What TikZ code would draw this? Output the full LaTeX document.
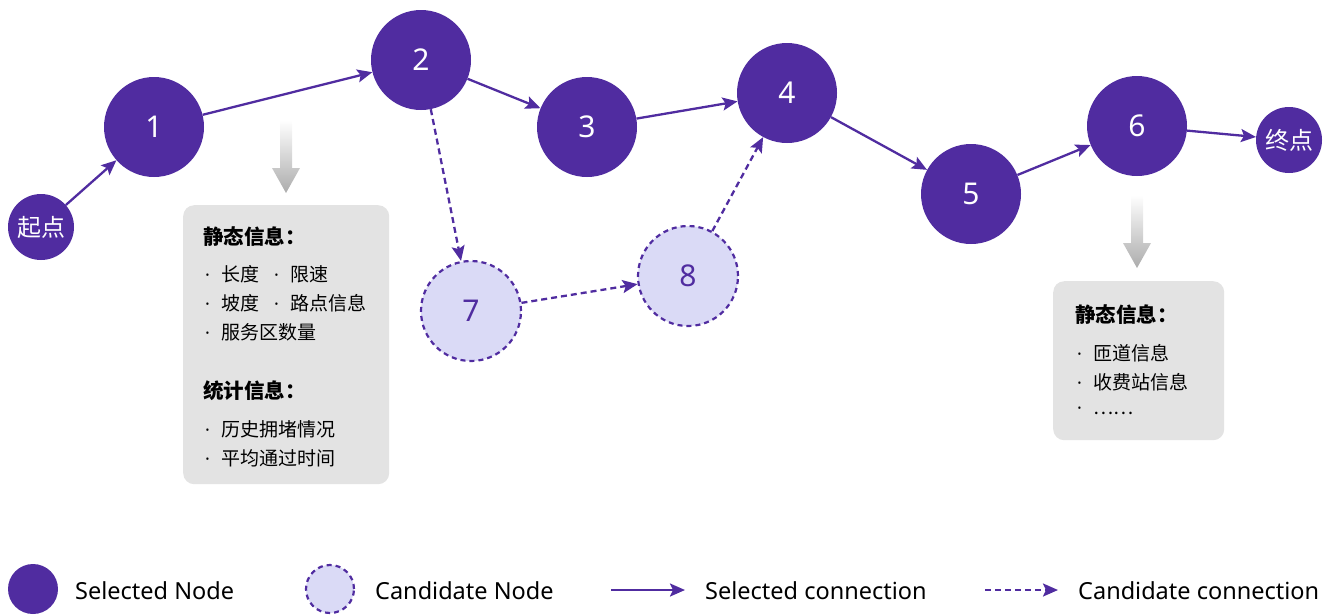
\documentclass[tikz,border=0pt]{standalone}
\usepackage{fontspec}
\setmainfont{Noto Sans}
\newfontfamily\cjk{Noto Sans CJK SC}
\usetikzlibrary{arrows.meta}
\definecolor{deeppurple}{RGB}{80,44,160}
\definecolor{lavender}{RGB}{218,218,246}
\definecolor{boxgray}{RGB}{227,227,227}
\definecolor{hintgray}{RGB}{172,172,172}
% small bullet followed by a fixed gap
\newcommand\itemdot{\makebox[16pt][l]{\rmfamily\fontsize{18}{18}\selectfont ·}}
\tikzset{
  sel/.style={circle, fill=deeppurple, inner sep=0pt, minimum size=100pt,
    text=white, font=\fontsize{30}{30}\selectfont},
  endpt/.style={circle, fill=deeppurple, inner sep=0pt, minimum size=66pt,
    text=white, font=\cjk\fontsize{24}{24}\selectfont},
  cand/.style={circle, fill=lavender, draw=deeppurple, line width=2.2pt,
    dash pattern=on 5pt off 4pt, inner sep=0pt, minimum size=100pt,
    text=deeppurple, font=\fontsize{30}{30}\selectfont},
  selarrow/.style={draw=deeppurple, line width=2.3pt,
    -{Stealth[length=15pt,width=13pt,inset=3pt]}},
  candarrow/.style={selarrow, dash pattern=on 6pt off 4pt},
  infobox/.style={fill=boxgray, rounded corners=11pt, inner sep=0pt, anchor=north west},
  boxtitle/.style={anchor=west, inner sep=0pt, font=\cjk\fontsize{20.5}{21}\selectfont\bfseries},
  boxitem/.style={anchor=west, inner sep=0pt, font=\cjk\fontsize{19}{19}\selectfont},
  legendtext/.style={anchor=west, inner sep=0pt, font=\fontsize{23.5}{24}\selectfont},
}
\begin{document}
\begin{tikzpicture}[x=1pt,y=-1pt]
\useasboundingbox (0,0) rectangle (1332,614);

% main route
\node[endpt] (start) at (41,227) {起点};
\node[sel] (n1) at (154,127) {1};
\node[sel] (n2) at (421,60) {2};
\node[sel] (n3) at (587,127) {3};
\node[sel] (n4) at (787,93) {4};
\node[sel] (n5) at (971,194) {5};
\node[sel] (n6) at (1137,126) {6};
\node[endpt] (goal) at (1289,140) {终点};

% alternative nodes
\node[cand] (n7) at (471,311) {7};
\node[cand] (n8) at (688,276) {8};

\draw[selarrow] (start) -- (n1);
\draw[selarrow] (n1) -- (n2);
\draw[selarrow] (n2) -- (n3);
\draw[selarrow] (n3) -- (n4);
\draw[selarrow] (n4) -- (n5);
\draw[selarrow] (n5) -- (n6);
\draw[selarrow] (n6) -- (goal);
\draw[candarrow] (n2) -- (n7);
\draw[candarrow] (n7) -- (n8);
\draw[candarrow] (n8) -- (n4);

% hint arrows
\shade[top color=white, bottom color=hintgray]
  (280,120) -- (292,120) -- (292,168) -- (300,168) -- (286,193) -- (272,168) -- (280,168) -- cycle;
\shade[top color=white, bottom color=hintgray]
  (1131,195) -- (1143,195) -- (1143,243) -- (1151,243) -- (1137,268) -- (1123,243) -- (1131,243) -- cycle;

% info box of segment 1
\node[infobox, minimum width=206pt, minimum height=279pt] (box1) at (183,205) {};
\node[boxtitle] (t1) at (203,237) {静态信息：};
\node[boxitem] (a1) at (205,274) {\itemdot 长度};
\node[boxitem] (a2) at (274,274) {\itemdot 限速};
\node[boxitem] (a3) at (205,303) {\itemdot 坡度};
\node[boxitem] (a4) at (274,303) {\itemdot 路点信息};
\node[boxitem] (a5) at (205,332) {\itemdot 服务区数量};
\node[boxtitle] (t2) at (203,391) {统计信息：};
\node[boxitem] (b1) at (205,429) {\itemdot 历史拥堵情况};
\node[boxitem] (b2) at (205,458) {\itemdot 平均通过时间};

% info box of node 6
\node[infobox, minimum width=171pt, minimum height=159pt] (box2) at (1053,281) {};
\node[boxtitle] (t3) at (1075,315) {静态信息：};
\node[boxitem] (c1) at (1077,353) {\itemdot 匝道信息};
\node[boxitem] (c2) at (1077,382) {\itemdot 收费站信息};
\node[boxitem] (c3) at (1077,411) {\itemdot ……};

% legend
\node[circle, fill=deeppurple, minimum size=50pt, inner sep=0pt] (lg1) at (33,589) {};
\node[legendtext] (lt1) at (75,591) {Selected Node};
\node[circle, fill=lavender, draw=deeppurple, line width=2.2pt, dash pattern=on 5pt off 4pt,
  minimum size=48pt, inner sep=0pt] (lg2) at (330,589) {};
\node[legendtext] (lt2) at (375,591) {Candidate Node};
\coordinate (la1) at (611,590);
\coordinate (lb1) at (685,590);
\draw[selarrow] (la1) -- (lb1);
\node[legendtext] (lt3) at (705,591) {Selected connection};
\coordinate (la2) at (985,590);
\coordinate (lb2) at (1058,590);
\draw[candarrow] (la2) -- (lb2);
\node[legendtext] (lt4) at (1078,591) {Candidate connection};
\end{tikzpicture}
\end{document}
